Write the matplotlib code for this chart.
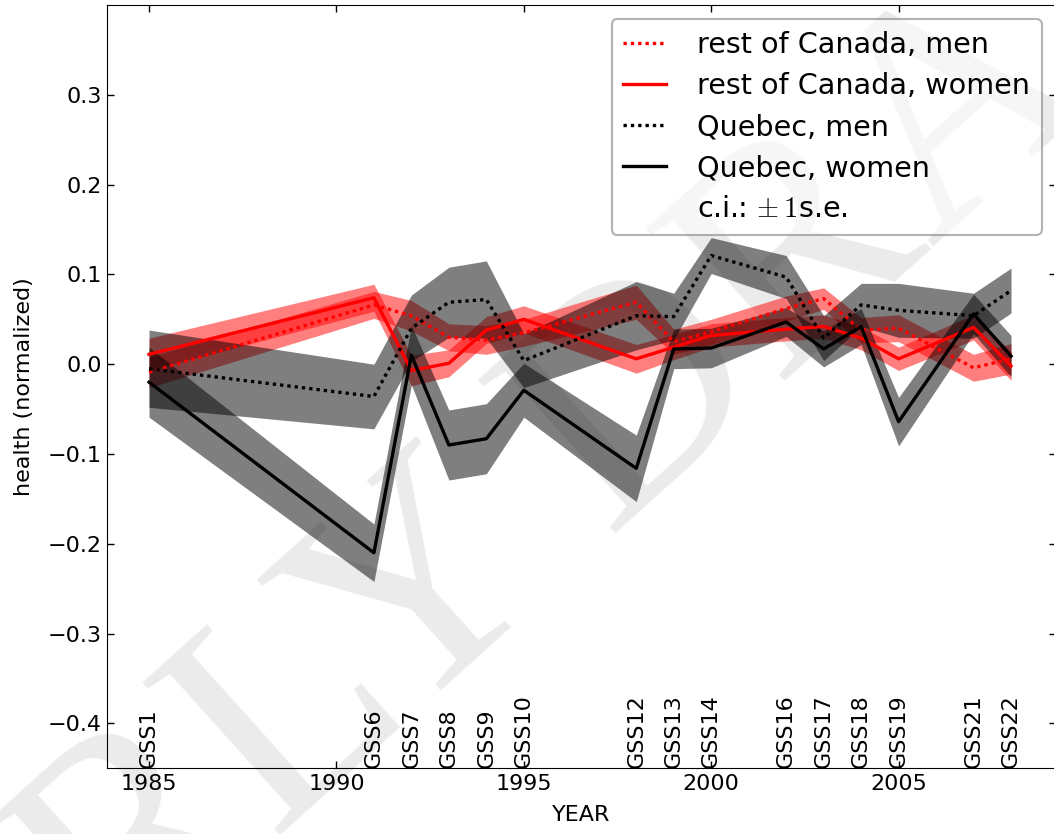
import numpy as np
import matplotlib.pyplot as plt
from matplotlib.lines import Line2D

plt.rcParams['mathtext.fontset'] = 'cm'

# survey years and cycle names
years = [1985, 1991, 1992, 1993, 1994, 1995, 1998, 1999, 2000, 2002, 2003, 2004, 2005, 2007, 2008]
surveys = ['GSS1', 'GSS6', 'GSS7', 'GSS8', 'GSS9', 'GSS10', 'GSS12', 'GSS13', 'GSS14',
           'GSS16', 'GSS17', 'GSS18', 'GSS19', 'GSS21', 'GSS22']

# mean normalized health and standard errors
roc_men = [-0.009, 0.066, 0.054, 0.030, 0.027, 0.035, 0.069, 0.025, 0.036, 0.062, 0.073, 0.038, 0.040, -0.004, 0.006]
roc_men_se = [0.017, 0.015, 0.017, 0.015, 0.016, 0.015, 0.019, 0.014, 0.014, 0.014, 0.012, 0.014, 0.015, 0.015, 0.017]
roc_women = [0.011, 0.074, -0.007, 0.001, 0.038, 0.050, 0.006, 0.019, 0.032, 0.039, 0.042, 0.029, 0.006, 0.041, -0.002]
roc_women_se = [0.018, 0.015, 0.017, 0.015, 0.015, 0.015, 0.016, 0.014, 0.013, 0.013, 0.013, 0.013, 0.013, 0.014, 0.016]
qc_men = [-0.005, -0.036, 0.040, 0.069, 0.072, 0.004, 0.054, 0.053, 0.121, 0.097, 0.029, 0.066, 0.060, 0.054, 0.082]
qc_men_se = [0.043, 0.036, 0.037, 0.039, 0.043, 0.030, 0.038, 0.026, 0.020, 0.024, 0.025, 0.024, 0.030, 0.025, 0.025]
qc_women = [-0.020, -0.210, 0.010, -0.090, -0.083, -0.029, -0.116, 0.017, 0.018, 0.047, 0.017, 0.042, -0.064, 0.056, 0.009]
qc_women_se = [0.039, 0.032, 0.033, 0.039, 0.039, 0.030, 0.037, 0.022, 0.022, 0.016, 0.020, 0.020, 0.027, 0.022, 0.023]

fig = plt.figure(figsize=(10.54, 8.34), dpi=100)
ax = fig.add_axes([106.7 / 1054, 1 - 768.3 / 834, (1056 - 106.7) / 1054, (768.3 - 5) / 834])
ax.set_facecolor('none')

# draft watermark behind the plot
fig.text(0.512, 0.40, 'EARLY DRAFT', rotation=42, fontsize=225, family='Liberation Serif',
         color='#ebebeb', ha='center', va='center', rotation_mode='anchor', zorder=-1)

dotted = (0, (1, 1.2))
series = [
    (roc_men, roc_men_se, 'r', dotted, 'rest of Canada, men'),
    (roc_women, roc_women_se, 'r', '-', 'rest of Canada, women'),
    (qc_men, qc_men_se, 'k', dotted, 'Quebec, men'),
    (qc_women, qc_women_se, 'k', '-', 'Quebec, women'),
]

x = np.array(years)
for vals, se, col, ls, lab in series:
    v = np.array(vals)
    s = np.array(se)
    ax.fill_between(x, v - s, v + s, color=col, alpha=0.5, linewidth=0, zorder=1)
for vals, se, col, ls, lab in series:
    ax.plot(x, vals, color=col, linestyle=ls, linewidth=2.4, label=lab, zorder=2)

# blank entry for the confidence interval note
ax.add_line(Line2D([], [], color='none', label=r'c.i.:$\,\pm1$s.e.'))

ax.set_xlim(1983.87, 2009.2)
ax.set_ylim(-0.45, 0.4)
ax.set_xticks([1985, 1990, 1995, 2000, 2005])
ax.set_yticks([-0.4, -0.3, -0.2, -0.1, 0.0, 0.1, 0.2, 0.3])
ax.tick_params(direction='in', length=5, width=1, top=True, right=True, labelsize=16)
ax.tick_params(axis='y', pad=3.5)
ax.tick_params(axis='x', pad=4)

for yr, name in zip(years, surveys):
    ax.text(yr, -0.45, name, rotation=90, ha='center', va='bottom', fontsize=16)

ax.set_xlabel('YEAR', fontsize=16, labelpad=8)
ax.set_ylabel('health (normalized)', fontsize=16, labelpad=10)

leg = ax.legend(loc='upper right', fontsize=20.6, handlelength=1.5, handletextpad=1.1,
                labelspacing=0.46, borderpad=0.4, fancybox=True, framealpha=0.6)
leg.get_frame().set_edgecolor('0.5')
leg.get_frame().set_linewidth(1.5)

fig.savefig('out.png', dpi=100)
